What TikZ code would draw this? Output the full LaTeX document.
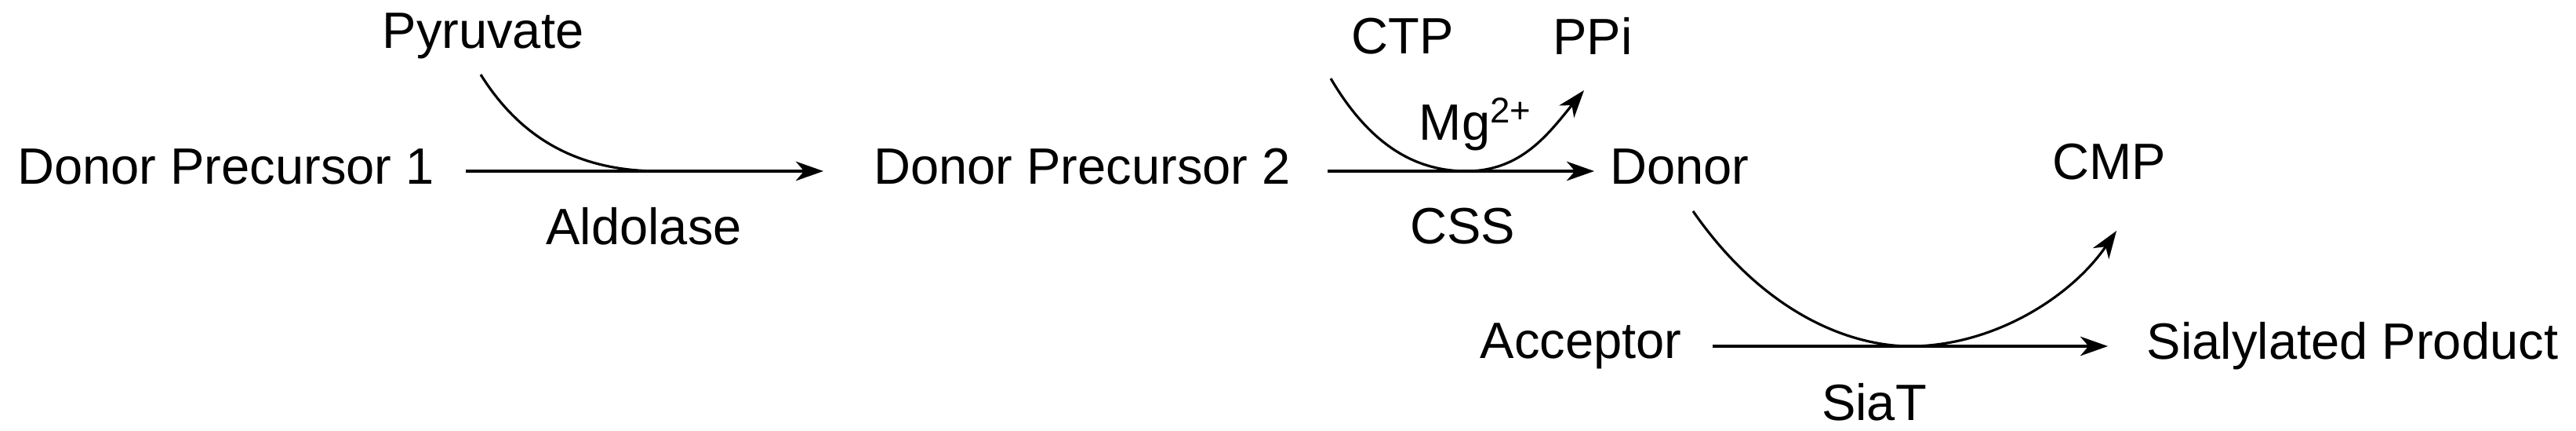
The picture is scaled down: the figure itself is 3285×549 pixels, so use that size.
\documentclass[tikz,border=0pt]{standalone}
\usepackage{fontspec}
\setmainfont{Liberation Sans}
\usetikzlibrary{arrows.meta}
\begin{document}
\begin{tikzpicture}[x=0.01cm,y=-0.01cm,
  lbl/.style={font=\fontsize{18.5}{22}\selectfont,inner sep=0pt},
  rx/.style={line width=0.9pt,-{Stealth[length=10pt,width=7pt,inset=3pt]}},
  cv/.style={line width=0.9pt}]
\useasboundingbox (0,0) rectangle (3285,549);
\node[lbl] (dp1) at (288,212) {Donor Precursor 1};
\node[lbl] (pyr) at (616,46) {Pyruvate};
\node[lbl] (ald) at (821,288) {Aldolase};
\node[lbl] (dp2) at (1380,212) {Donor Precursor 2};
\node[lbl] (ctp) at (1789,46) {CTP};
\node[lbl] (ppi) at (2031,46) {PPi};
\node[lbl] (mg) at (1882,158) {Mg\textsuperscript{2+}};
\node[lbl] (css) at (1865,288) {CSS};
\node[lbl] (don) at (2142,212) {Donor};
\node[lbl] (cmp) at (2690,206) {CMP};
\node[lbl] (acc) at (2016,441) {Acceptor};
\node[lbl] (sp) at (3000,441) {Sialylated Product};
\node[lbl] (siat) at (2390,512) {SiaT};
\coordinate (a1s) at (594,218); \coordinate (a1e) at (1050,218);
\coordinate (a2s) at (1693,218); \coordinate (a2e) at (2033,218);
\coordinate (a3s) at (2184,441); \coordinate (a3e) at (2688,441);
\draw[rx] (a1s) -- (a1e);
\draw[rx] (a2s) -- (a2e);
\draw[rx] (a3s) -- (a3e);
\coordinate (p0) at (613,95);
\draw[cv] (p0) .. controls (660,170) and (730,218) .. (840,218);
\coordinate (c0) at (1697,100);
\draw[rx] (c0) .. controls (1750,190) and (1810,218) .. (1870,218)
  .. controls (1940,218) and (1975,170) .. (2020,115);
\coordinate (d0) at (2159,269);
\draw[rx] (d0) .. controls (2250,400) and (2360,441) .. (2436,441)
  .. controls (2540,441) and (2640,380) .. (2699,294);
\end{tikzpicture}
\end{document}
